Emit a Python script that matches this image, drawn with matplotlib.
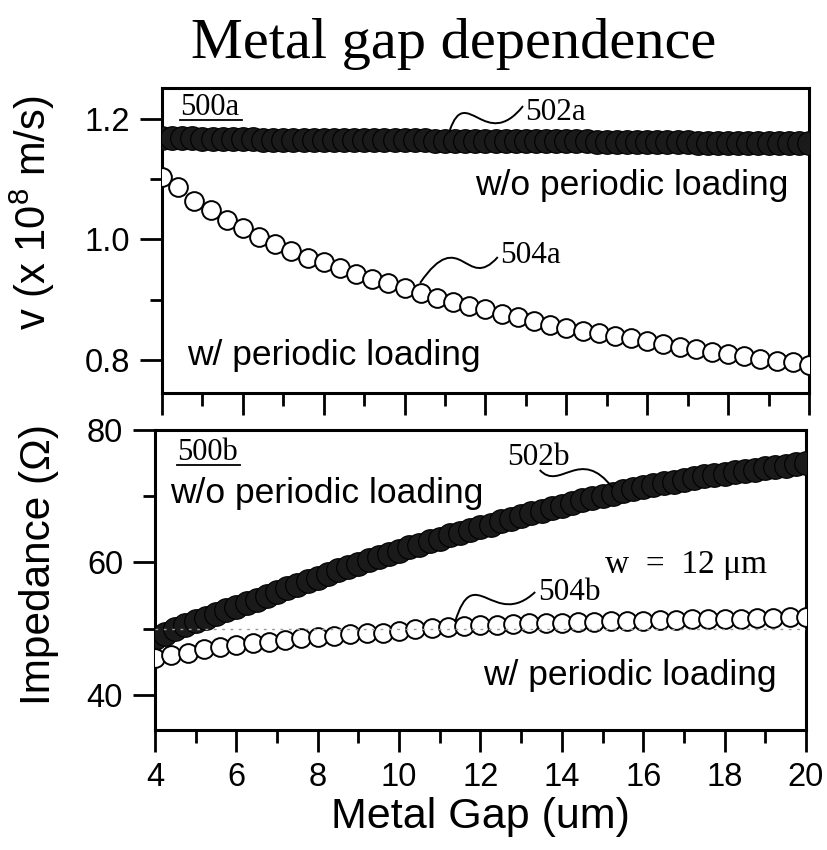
import matplotlib
matplotlib.use("Agg")
import matplotlib.pyplot as plt
import numpy as np
from matplotlib.path import Path
from matplotlib.patches import PathPatch

plt.rcParams['font.family'] = ['Liberation Sans', 'DejaVu Sans']
plt.rcParams['mathtext.fontset'] = 'custom'
plt.rcParams['mathtext.rm'] = 'Liberation Sans'

# metal gap (um) sample positions
gap_dense = np.linspace(4, 20, 65)
gap_open = np.linspace(4, 20, 41)

# velocity (x 1e8 m/s)
v_without = [1.168, 1.168, 1.168, 1.168, 1.167, 1.167, 1.167, 1.167,
             1.167, 1.167, 1.166, 1.166, 1.166, 1.166, 1.166, 1.166,
             1.166, 1.166, 1.166, 1.165, 1.165, 1.165, 1.165, 1.165,
             1.165, 1.165, 1.165, 1.164, 1.164, 1.164, 1.164, 1.164,
             1.164, 1.164, 1.164, 1.163, 1.163, 1.163, 1.163, 1.163,
             1.163, 1.163, 1.163, 1.162, 1.162, 1.162, 1.162, 1.162,
             1.162, 1.162, 1.162, 1.162, 1.162, 1.161, 1.161, 1.161,
             1.161, 1.161, 1.161, 1.161, 1.161, 1.161, 1.161, 1.161,
             1.161]
v_with = [1.104, 1.087, 1.064, 1.049, 1.032, 1.019, 1.004, 0.993, 0.981, 0.970,
          0.962, 0.952, 0.943, 0.935, 0.927, 0.919, 0.911, 0.903, 0.896, 0.890,
          0.884, 0.877, 0.871, 0.864, 0.858, 0.853, 0.848, 0.844, 0.839, 0.836,
          0.831, 0.827, 0.822, 0.818, 0.813, 0.810, 0.806, 0.802, 0.798, 0.796,
          0.792]

# impedance (ohm)
z_without = [48.6, 49.2, 49.9, 50.5, 51.1, 51.6, 52.2, 52.8,
             53.3, 53.9, 54.4, 55.0, 55.5, 56.1, 56.6, 57.2,
             57.7, 58.2, 58.8, 59.3, 59.8, 60.3, 60.8, 61.3,
             61.8, 62.3, 62.7, 63.2, 63.6, 64.1, 64.5, 64.9,
             65.3, 65.7, 66.2, 66.6, 67.0, 67.4, 67.8, 68.2,
             68.6, 69.0, 69.4, 69.7, 70.1, 70.4, 70.8, 71.1,
             71.4, 71.7, 72.0, 72.2, 72.5, 72.7, 73.0, 73.2,
             73.4, 73.6, 73.8, 74.0, 74.2, 74.4, 74.6, 74.8,
             75.0]
z_with = [45.5, 46.0, 46.4, 46.9, 47.3, 47.6, 47.8, 48.0, 48.3, 48.6,
          48.7, 48.9, 49.2, 49.3, 49.4, 49.7, 49.9, 50.1, 50.2, 50.4,
          50.5, 50.6, 50.7, 50.8, 50.8, 50.9, 51.0, 51.0, 51.1, 51.1,
          51.2, 51.3, 51.3, 51.4, 51.4, 51.5, 51.5, 51.6, 51.6, 51.7,
          51.8]
z_ref = 50

serif = 'Liberation Serif'


def squiggle(ax, pts):
    # little wavy leader line from a curve to its reference numeral
    path = Path(pts, [Path.MOVETO, Path.CURVE4, Path.CURVE4, Path.CURVE4])
    ax.add_patch(PathPatch(path, transform=ax.transAxes, fill=False,
                           lw=1.4, color='k', clip_on=False, zorder=6))


def underlined(ax, x, y, s, width):
    ax.text(x, y, s, transform=ax.transAxes, family=serif, fontsize=22,
            ha='left', va='baseline')
    ax.plot([x, x + width], [y - 0.016, y - 0.016], transform=ax.transAxes,
            color='k', lw=1.3, clip_on=False)


def style(ax):
    for sp in ax.spines.values():
        sp.set_linewidth(2.2)
    ax.tick_params(which='both', direction='out', width=2,
                   top=False, right=False, labelsize=23.5, pad=7)
    ax.tick_params(which='major', length=16)
    ax.tick_params(which='minor', length=9)
    ax.set_xlim(4, 20)
    ax.set_xticks(np.arange(4, 21, 2))
    ax.set_xticks(np.arange(5, 20, 2), minor=True)


fig = plt.figure(figsize=(8.27, 8.5), dpi=100)
ax1 = fig.add_axes([0.1959, 0.5376, 0.7823, 0.3588])
ax2 = fig.add_axes([0.1874, 0.1412, 0.7872, 0.3529])

fig.text(0.548, 0.932, 'Metal gap dependence', family=serif, fontsize=42,
         ha='center', va='baseline')

# ---- top: velocity ----
style(ax1)
ax1.plot(gap_dense, v_without, 'o', ms=17, mfc='#1a1a1a', mec='#000000',
         mew=0.8, zorder=3)
ax1.plot(gap_open, v_with, 'o', ms=13.5, mfc='white', mec='black',
         mew=1.4, zorder=4)
ax1.set_ylim(0.745, 1.2515)
ax1.set_yticks([0.8, 1.0, 1.2])
ax1.set_yticks([0.9, 1.1], minor=True)
ax1.tick_params(axis='x', labelbottom=False)
ax1.set_ylabel('v (x 10$^8$ m/s)', fontsize=30)
ax1.yaxis.set_label_coords(-0.163, 0.59)

underlined(ax1, 0.028, 0.911, '500a', 0.095)
ax1.text(0.561, 0.895, '502a', transform=ax1.transAxes, family=serif,
         fontsize=22.5, va='baseline')
ax1.text(0.522, 0.426, '504a', transform=ax1.transAxes, family=serif,
         fontsize=22.5, va='baseline')
ax1.text(0.968, 0.649, 'w/o periodic loading', transform=ax1.transAxes,
         fontsize=25.5, ha='right', va='baseline')
ax1.text(0.039, 0.092, 'w/ periodic loading', transform=ax1.transAxes,
         fontsize=25.5, ha='left', va='baseline')
squiggle(ax1, [(0.445, 0.862), (0.47, 1.017), (0.50, 0.786), (0.558, 0.941)])
squiggle(ax1, [(0.399, 0.361), (0.462, 0.557), (0.470, 0.327), (0.519, 0.446)])

# ---- bottom: impedance ----
style(ax2)
ax2.plot(gap_dense, z_without, 'o', ms=17, mfc='#1a1a1a', mec='#000000',
         mew=0.8, zorder=3)
ax2.plot(gap_open, z_with, 'o', ms=13.5, mfc='white', mec='black',
         mew=1.4, zorder=4)
ax2.axhline(z_ref, color='#9a9a9a', lw=1, ls=(0, (2, 4)), zorder=5)
ax2.set_ylim(34.7, 80)
ax2.set_yticks([40, 60, 80])
ax2.set_yticks([50, 70], minor=True)
ax2.set_xlabel('Metal Gap (um)', fontsize=31)
ax2.xaxis.set_label_coords(0.5, -0.225)
ax2.set_ylabel('Impedance (\u03a9)', fontsize=30.5)
ax2.yaxis.set_label_coords(-0.148, 0.55)

underlined(ax2, 0.034, 0.90, '500b', 0.096)
ax2.text(0.541, 0.883, '502b', transform=ax2.transAxes, family=serif,
         fontsize=22.5, va='baseline')
ax2.text(0.588, 0.433, '504b', transform=ax2.transAxes, family=serif,
         fontsize=22.5, va='baseline')
ax2.text(0.691, 0.523, 'w  =  12 \u03bcm', transform=ax2.transAxes,
         family=serif, fontsize=24, va='baseline')
ax2.text(0.023, 0.757, 'w/o periodic loading', transform=ax2.transAxes,
         fontsize=25.5, ha='left', va='baseline')
ax2.text(0.955, 0.15, 'w/ periodic loading', transform=ax2.transAxes,
         fontsize=25.5, ha='right', va='baseline')
squiggle(ax2, [(0.591, 0.867), (0.622, 0.793), (0.653, 0.95), (0.703, 0.807)])
squiggle(ax2, [(0.461, 0.36), (0.49, 0.57), (0.52, 0.33), (0.584, 0.46)])

fig.savefig('out.png', dpi=100)
